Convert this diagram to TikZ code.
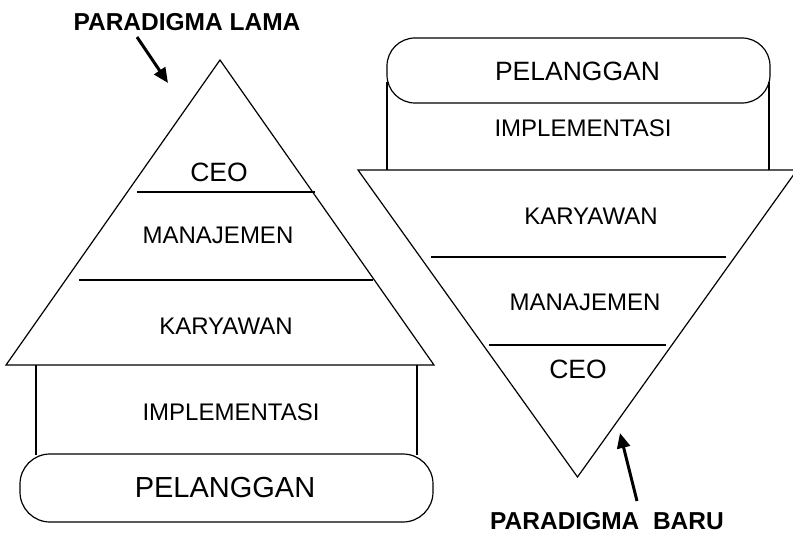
\documentclass[tikz,border=0pt]{standalone}
\usepackage{fontspec}
\setmainfont{Liberation Sans}
\usetikzlibrary{arrows.meta}
\begin{document}
\begin{tikzpicture}[x=1pt,y=-1pt,
  outline/.style={draw=black,line width=1.2pt,line join=miter},
  divider/.style={draw=black,line width=1.4pt},
  pillbox/.style={draw=black,line width=1.2pt,rounded corners=30pt},
  tier/.style={inner sep=0pt,font=\fontsize{24}{28}\selectfont},
  bigtier/.style={inner sep=0pt,font=\fontsize{26.5}{30}\selectfont},
  hugetier/.style={inner sep=0pt,font=\fontsize{29}{32}\selectfont},
  heading/.style={inner sep=0pt,font=\bfseries\fontsize{24.5}{28}\selectfont},
  pointer/.style={draw=black,line width=3pt,-{Triangle[length=15pt,width=13pt]}}]
\useasboundingbox (0,0) rectangle (793,535);

% ---------- old paradigm: upright pyramid ----------
\draw[outline] (220,60) -- (434,365) -- (6,365) -- cycle;
\draw[divider] (137,192) -- (315,192);
\draw[divider] (79,280) -- (373,280);
\draw[outline] (36,365) -- (36,455);
\draw[outline] (417,365) -- (417,455);
\draw[pillbox] (20,454) rectangle (433,522);

\node[bigtier] (ceoL) at (219,172) {CEO};
\node[tier] (manL) at (218,235) {MANAJEMEN};
\node[tier] (karL) at (226,326) {KARYAWAN};
\node[tier] (impL) at (231,412) {IMPLEMENTASI};
\node[hugetier] (pelL) at (225,488) {PELANGGAN};

\node[heading] (lama) at (187,22) {PARADIGMA LAMA};
\coordinate (lamaTail) at (137,37);
\coordinate (lamaTip) at (168,83);
\draw[pointer] (lamaTail) -- (lamaTip);

% ---------- new paradigm: inverted pyramid ----------
\draw[outline] (358,170) -- (797,170) -- (577.5,477) -- cycle;
\draw[divider] (431,257) -- (726,257);
\draw[divider] (489,345) -- (666,345);
\draw[outline] (387,82) -- (387,170);
\draw[outline] (769,82) -- (769,170);
\draw[pillbox,rounded corners=28pt] (387,38) rectangle (770,103);

\node[bigtier] (pelR) at (577.5,71) {PELANGGAN};
\node[tier] (impR) at (583,128) {IMPLEMENTASI};
\node[tier] (karR) at (591,216) {KARYAWAN};
\node[tier] (manR) at (585,302) {MANAJEMEN};
\node[bigtier] (ceoR) at (578,369) {CEO};

\node[heading] (baru) at (607,521.5) {PARADIGMA\ \ BARU};
\coordinate (baruTail) at (637,501);
\coordinate (baruTip) at (620,433);
\draw[pointer] (baruTail) -- (baruTip);
\end{tikzpicture}
\end{document}
